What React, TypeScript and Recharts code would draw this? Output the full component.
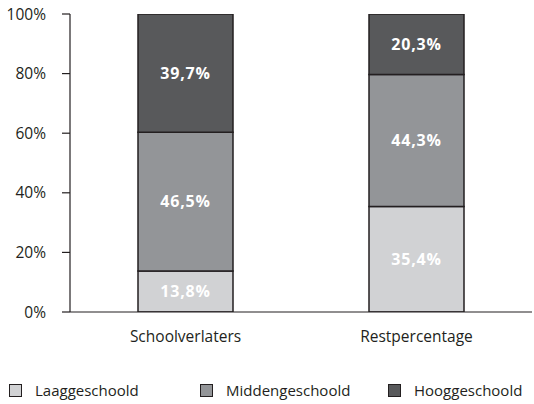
import { BarChart, Bar, XAxis, YAxis, Legend, LabelList } from 'recharts'

const categories = ['Schoolverlaters', 'Restpercentage']
const laag = [13.8, 35.4]
const midden = [46.5, 44.3]
const hoog = [39.7, 20.3]
const yTicks = [0, 20, 40, 60, 80, 100]

const series = [
  { key: 'laag', name: 'Laaggeschoold', color: '#d1d2d4' },
  { key: 'midden', name: 'Middengeschoold', color: '#939598' },
  { key: 'hoog', name: 'Hooggeschoold', color: '#58595b' },
]

const data = categories.map((name, i) => ({
  name,
  pos: i + 0.5,
  laag: laag[i],
  midden: midden[i],
  hoog: hoog[i],
}))

const FONT = '"Open Sans", sans-serif'
const INK = '#231f20'

const fmt = (v: any) => `${Number(v).toFixed(1).replace('.', ',')}%`

const renderLegend = () => (
  <div style={{ position: 'relative', height: 20, fontFamily: FONT, fontSize: 15, color: INK }}>
    {series.map((s, i) => (
      <div
        key={s.key}
        style={{ position: 'absolute', left: [9, 200, 388][i], top: 0, display: 'flex', alignItems: 'center' }}
      >
        <span
          style={{
            display: 'inline-block',
            width: 11,
            height: 11,
            background: s.color,
            border: `1px solid ${INK}`,
            marginRight: 13,
          }}
        />
        <span>{s.name}</span>
      </div>
    ))}
  </div>
)

export default function App() {
  return (
    <div style={{ position: 'absolute', left: 0, top: 0, background: '#fff' }}>
      <BarChart
        width={534}
        height={404}
        data={data}
        margin={{ top: 14, right: 2, left: 0, bottom: 0 }}
        barSize={95}
      >
        {/* separator axis: draws the base line and the tick between the two bars */}
        <XAxis
          type='number'
          dataKey='pos'
          domain={[0, 2]}
          ticks={[1]}
          height={1}
          axisLine={{ stroke: INK, strokeWidth: 1.2 }}
          tick={false}
          tickLine={{ stroke: INK, strokeWidth: 1.2 }}
          tickSize={7}
        />
        <XAxis
          xAxisId='cat'
          dataKey='name'
          axisLine={false}
          tickLine={false}
          tickSize={0}
          tickMargin={18}
          height={71}
          tick={{ fill: INK, fontSize: 15.5, fontFamily: FONT }}
        />
        <YAxis
          domain={[0, 100]}
          ticks={yTicks}
          width={70}
          tickFormatter={(v) => `${v}%`}
          axisLine={{ stroke: INK, strokeWidth: 1.2 }}
          tickLine={{ stroke: INK, strokeWidth: 1.2 }}
          tickSize={8}
          tickMargin={16}
          tick={{ fill: INK, fontSize: 15.5, fontFamily: FONT }}
          allowDataOverflow
        />
        <Legend
          verticalAlign='bottom'
          content={renderLegend}
          wrapperStyle={{ left: 0, width: 534, bottom: 4 }}
        />
        {series.map((s) => (
          <Bar
            key={s.key}
            xAxisId='cat'
            dataKey={s.key}
            name={s.name}
            stackId='a'
            fill={s.color}
            stroke={INK}
            strokeWidth={1.5}
            isAnimationActive={false}
          >
            <LabelList
              dataKey={s.key}
              position='center'
              formatter={fmt}
              fill='#fff'
              fontSize={16}
              fontWeight={700}
              fontFamily={FONT}
              letterSpacing={0.8}
            />
          </Bar>
        ))}
      </BarChart>
    </div>
  )
}
